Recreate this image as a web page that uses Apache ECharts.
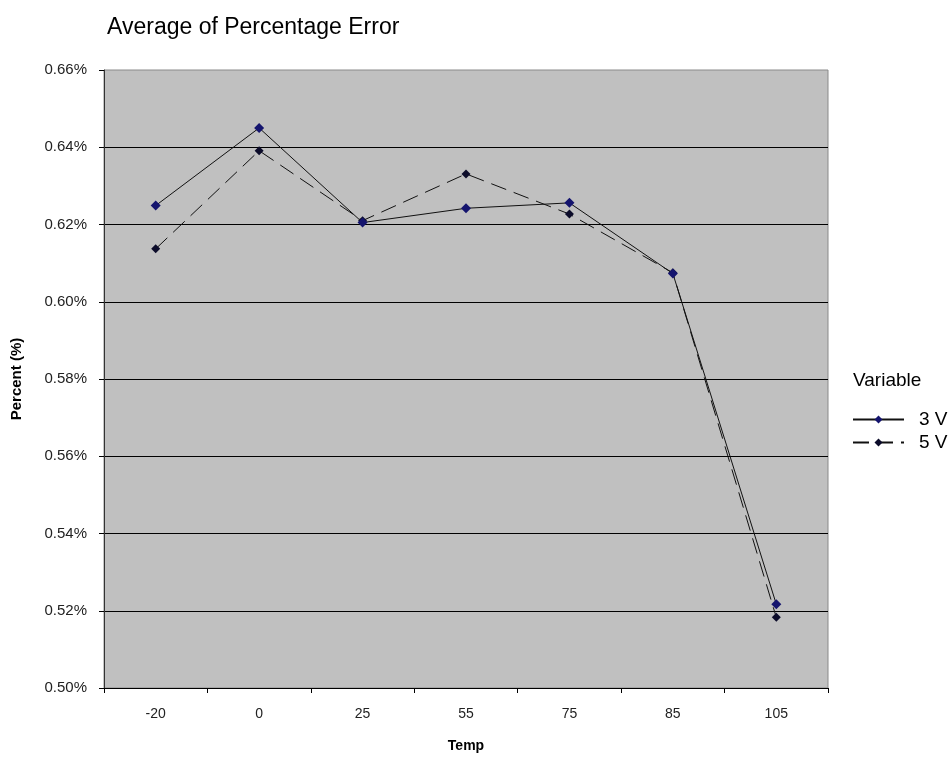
<!DOCTYPE html>
<html>
<head>
<meta charset="utf-8">
<script src="https://cdn.jsdelivr.net/npm/echarts@6/dist/echarts.min.js"></script>
<style>
  html, body { margin: 0; padding: 0; background: #fff; }
  #chart { width: 950px; height: 758px; }
</style>
</head>
<body>
<div id="chart"></div>
<script>
// categories (Temp)
const temps = ['-20', '0', '25', '55', '75', '85', '105'];
// average percentage error, in %
const v3 = [0.6249, 0.6450, 0.6205, 0.6242, 0.6256, 0.6073, 0.5217];
const v5 = [0.6137, 0.6391, 0.6210, 0.6331, 0.6227, 0.6075, 0.5183];
const yMin = 0.50;
const yMax = 0.66;
const yStep = 0.02;

let myChart = echarts.init(document.getElementById('chart'));
var option;
option = {
  textStyle: { fontFamily: 'Arial, "Liberation Sans", sans-serif' },
  title: [
    {
      text: 'Average of Percentage Error',
      left: 102,
      top: 11,
      textStyle: { fontSize: 23, fontWeight: 'normal', color: '#000' },
    },
    {
      text: 'Variable',
      left: 848,
      top: 366,
      textStyle: { fontSize: 19, fontWeight: 'normal', color: '#000' },
    },
  ],
  legend: {
    orient: 'vertical',
    left: 847,
    top: 405,
    itemWidth: 51,
    itemHeight: 10,
    itemGap: 4,
    textStyle: { fontSize: 19, color: '#000', padding: [0, 0, 0, 10] },
    data: ['3 V', '5 V'],
  },
  grid: {
    left: 104,
    right: 122,
    top: 70,
    bottom: 70,
    show: true,
    backgroundColor: '#c0c0c0',
    borderWidth: 1,
    borderColor: '#8a8a8a',
  },
  xAxis: {
    type: 'category',
    data: temps,
    boundaryGap: true,
    name: 'Temp',
    nameLocation: 'middle',
    nameGap: 51,
    nameTextStyle: { fontSize: 14, fontWeight: 'bold', color: '#000' },
    axisLine: { lineStyle: { color: '#000', width: 1 } },
    axisTick: { show: true, alignWithLabel: false, length: 5, lineStyle: { color: '#000' } },
    axisLabel: { fontSize: 14, color: '#222', margin: 19 },
  },
  yAxis: {
    type: 'value',
    min: yMin,
    max: yMax,
    interval: yStep,
    name: 'Percent (%)',
    nameLocation: 'middle',
    nameGap: 80,
    nameTextStyle: { fontSize: 15, fontWeight: 'bold', color: '#000' },
    axisLine: { show: true, lineStyle: { color: '#333', width: 1 } },
    axisTick: { show: true, length: 5, lineStyle: { color: '#000' } },
    axisLabel: {
      fontSize: 15,
      color: '#222',
      margin: 17,
      formatter: (v) => v.toFixed(2) + '%',
    },
    splitLine: { showMaxLine: false, lineStyle: { color: '#000', width: 1 } },
  },
  series: [
    {
      name: '3 V',
      type: 'line',
      data: v3,
      symbol: 'diamond',
      symbolSize: 10,
      itemStyle: { color: '#14146e' },
      lineStyle: { color: '#111', width: 1, type: 'solid' },
      z: 3,
    },
    {
      name: '5 V',
      type: 'line',
      data: v5,
      symbol: 'diamond',
      symbolSize: 9,
      itemStyle: { color: '#0c0c2a' },
      lineStyle: { color: '#111', width: 1, type: [16, 8] },
      z: 2,
    },
  ],
};
option && myChart.setOption(option);
window.addEventListener('resize', () => {
  myChart.resize();
});
</script>
</body>
</html>
